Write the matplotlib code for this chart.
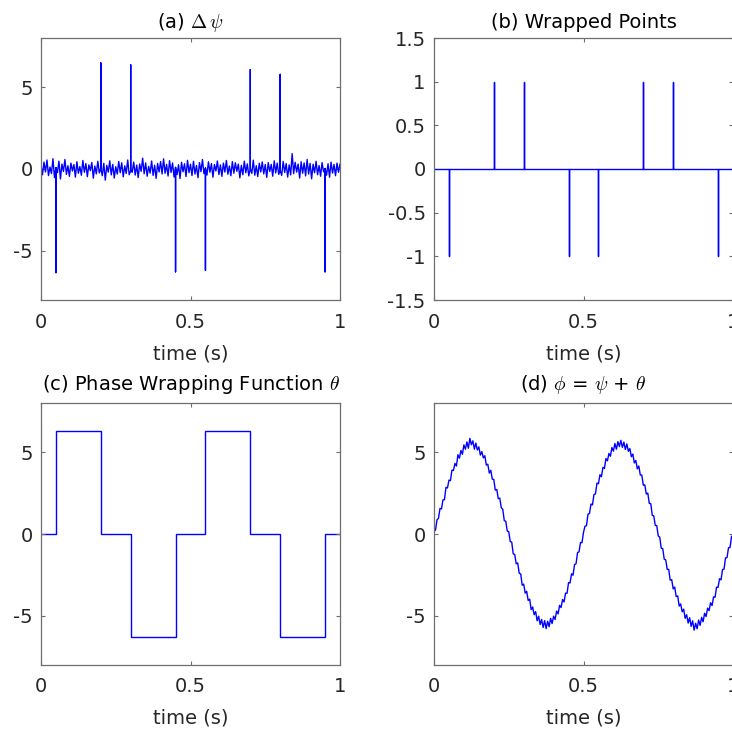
import matplotlib
matplotlib.use("Agg")
import matplotlib.pyplot as plt
import numpy as np

# wrap instants and what happens there
t_wrap = [0.05, 0.2, 0.3, 0.45, 0.55, 0.7, 0.8, 0.95]
wrap_sign = [-1, 1, 1, -1, -1, 1, 1, -1]
spike_height = [-6.33, 6.48, 6.36, -6.28, -6.19, 6.07, 5.78, -6.28]

# phase wrapping function theta (piecewise constant)
theta_edges = [0, 0.05, 0.2, 0.3, 0.45, 0.55, 0.7, 0.8, 0.95, 1.0]
theta_levels = [0, 6.28, 0, -6.28, 0, 6.28, 0, -6.28, 0]

# noise of the wrapped phase difference (sampled every 5 ms)
dpsi_noise = [
    0.21, -0.35, 0.42, -0.18, 0.55, -0.40, 0.12, -0.28, 0.63, -0.52,
    0.08, -0.22, 0.48, -0.61, 0.30, -0.15, 0.58, -0.33, 0.20, -0.45,
    0.36, -0.12, 0.27, -0.50, 0.44, -0.26, 0.15, -0.38, 0.52, -0.20,
    0.33, -0.47, 0.25, -0.10, 0.40, -0.56, 0.18, -0.30, 0.47, -0.24,
    0.05, -0.41, 0.35, -0.68, 0.22, -0.19, 0.50, -0.36, 0.28, -0.55,
    0.14, -0.31, 0.46, -0.23, 0.38, -0.48, 0.19, -0.27, 0.55, -0.35,
    -0.10, -0.20, 0.42, -0.37, 0.24, -0.52, 0.31, -0.14, 0.66, -0.29,
    0.37, -0.44, 0.16, -0.25, 0.49, -0.39, 0.23, -0.57, 0.34, -0.18,
    0.45, -0.30, 0.62, -0.26, 0.28, -0.43, 0.51, -0.21, 0.37, -0.49,
    0.10, -0.34, 0.26, -0.58, 0.41, -0.17, 0.32, -0.46, 0.53, -0.22,
    0.29, -0.40, 0.47, -0.31, 0.21, -0.53, 0.39, -0.16, 0.58, -0.28,
    0.06, -0.37, 0.44, -0.20, 0.33, -0.50, 0.27, -0.12, 0.49, -0.34,
    0.25, -0.45, 0.36, -0.19, 0.52, -0.32, 0.18, -0.41, 0.45, -0.26,
    0.38, -0.14, 0.30, -0.54, 0.22, -0.35, 0.48, -0.23, 0.31, -0.42,
    0.04, -0.27, 0.54, -0.38, 0.20, -0.46, 0.35, -0.18, 0.43, -0.30,
    0.27, -0.51, 0.39, -0.15, 0.28, -0.44, 0.50, -0.24, 0.36, -0.33,
    -0.08, -0.39, 0.46, -0.21, 0.33, -0.49, 0.25, -0.36, 0.94, -0.28,
    0.41, -0.19, 0.30, -0.55, 0.44, -0.26, 0.37, -0.42, 0.58, -0.31,
    0.34, -0.60, 0.29, -0.23, 0.47, -0.35, 0.21, -0.44, 0.39, -0.17,
    0.03, -0.38, 0.32, -0.50, 0.42, -0.25, 0.28, -0.41, 0.36, -0.20,
    0.30,
]

# unwrapped phase phi (sampled every 5 ms)
phi = [
    0.15, 0.24, 0.86, 0.96, 1.56, 1.53, 2.08, 2.10, 2.85, 2.81,
    3.29, 3.26, 3.90, 3.88, 4.31, 4.15, 4.84, 4.63, 5.10, 4.87,
    5.44, 5.18, 5.62, 5.24, 5.84, 5.45, 5.69, 5.18, 5.55, 5.13,
    5.32, 4.82, 5.03, 4.65, 4.78, 4.21, 4.26, 3.72, 3.89, 3.35,
    3.33, 2.68, 2.72, 2.16, 2.19, 1.60, 1.51, 0.82, 0.78, 0.18,
    0.14, -0.46, -0.50, -1.21, -1.25, -1.82, -1.77, -2.40, -2.44, -3.13,
    -3.06, -3.61, -3.50, -4.06, -3.98, -4.62, -4.46, -4.93, -4.74, -5.30,
    -5.02, -5.53, -5.22, -5.71, -5.29, -5.78, -5.33, -5.66, -5.15, -5.47,
    -5.02, -5.22, -4.71, -4.88, -4.36, -4.49, -4.00, -4.15, -3.61, -3.62,
    -2.97, -2.99, -2.43, -2.52, -1.87, -1.82, -1.14, -1.09, -0.52, -0.53,
    0.10, 0.48, 0.51, 1.21, 1.25, 1.83, 1.78, 2.41, 2.45, 3.11,
    3.07, 3.62, 3.50, 4.07, 4.00, 4.61, 4.47, 4.92, 4.75, 5.28,
    5.06, 5.53, 5.18, 5.64, 5.34, 5.72, 5.29, 5.61, 5.16, 5.50,
    5.05, 5.22, 4.72, 4.88, 4.34, 4.49, 3.98, 4.15, 3.60, 3.60,
    2.98, 3.00, 2.44, 2.50, 1.87, 1.85, 1.14, 1.11, 0.53, 0.51,
    -0.12, -0.19, -0.87, -0.89, -1.54, -1.58, -2.16, -2.16, -2.82, -2.79,
    -3.35, -3.24, -3.82, -3.78, -4.40, -4.27, -4.75, -4.59, -5.15, -4.93,
    -5.44, -5.11, -5.64, -5.30, -5.87, -5.45, -5.79, -5.26, -5.58, -5.09,
    -5.36, -4.84, -5.04, -4.53, -4.68, -4.20, -4.37, -3.84, -3.86, -3.25,
    -3.26, -2.73, -2.80, -2.17, -2.14, -1.46, -1.44, -0.84, -0.82, -0.16,
    -0.05,
]

plt.rcParams['font.family'] = ['DejaVu Sans']
plt.rcParams['mathtext.fontset'] = 'cm'
plt.rcParams['axes.unicode_minus'] = False

BLUE = (0, 0, 1)
TXT = '#262626'
AXC = '#6e6e6e'
FS = 14


def spiky(t, base, idx, tops):
    # repeat the sample at each wrap instant so the spike is vertical
    counts = np.ones(len(t), dtype=int)
    counts[idx] = 3
    x = np.repeat(t, counts)
    y = np.repeat(np.asarray(base, dtype=float), counts)
    mid = np.cumsum(counts) - 2
    y[mid[idx]] = tops
    return x, y


def style(ax, yticks, ylabels, ylim):
    ax.set_xlim(0, 1)
    ax.set_ylim(*ylim)
    ax.set_xticks([0, 0.5, 1])
    ax.set_xticklabels(['0', '0.5', '1'])
    ax.set_yticks(yticks)
    ax.set_yticklabels(ylabels)
    ax.tick_params(direction='in', length=3, width=0.8, color=AXC,
                   labelcolor=TXT, labelsize=FS, top=True, right=True)
    ax.tick_params(axis='x', pad=9)
    ax.tick_params(axis='y', pad=6)
    for s in ax.spines.values():
        s.set_color(AXC)
        s.set_linewidth(0.9)
    ax.set_xlabel('time (s)', fontsize=FS, color=TXT, labelpad=9)


def main():
    t = np.linspace(0, 1, len(phi))
    idx = np.rint(np.array(t_wrap) * (len(t) - 1)).astype(int)

    fig = plt.figure(figsize=(7.32, 7.33), dpi=100)
    w = 299 / 732
    h = 262 / 733
    ax_a = fig.add_axes([41 / 732, 1 - 300 / 733, w, h])
    ax_b = fig.add_axes([434 / 732, 1 - 300 / 733, w, h])
    ax_c = fig.add_axes([41 / 732, 1 - 665 / 733, w, h])
    ax_d = fig.add_axes([434 / 732, 1 - 665 / 733, w, h])

    xa, ya = spiky(t, dpsi_noise, idx, spike_height)
    ax_a.plot(xa, ya, color=BLUE, lw=1.0)
    style(ax_a, [-5, 0, 5], ['-5', '0', '5'], (-8, 8))
    ax_a.set_title(r'(a) $\Delta\,\psi$', fontsize=FS, color='black', pad=7)

    xb, yb = spiky(t, np.zeros(len(t)), idx, wrap_sign)
    ax_b.plot(xb, yb, color=BLUE, lw=1.0)
    style(ax_b, [-1.5, -1, -0.5, 0, 0.5, 1, 1.5],
          ['-1.5', '-1', '-0.5', '0', '0.5', '1', '1.5'], (-1.5, 1.5))
    ax_b.set_title('(b) Wrapped Points', fontsize=FS, color='black', pad=7)

    ax_c.stairs(theta_levels, theta_edges, baseline=None, color=BLUE, lw=1.0)
    style(ax_c, [-5, 0, 5], ['-5', '0', '5'], (-8, 8))
    ax_c.set_title(r'(c) Phase Wrapping Function $\theta$', fontsize=FS,
                   color='black', pad=9)

    ax_d.plot(t, phi, color=BLUE, lw=1.0)
    style(ax_d, [-5, 0, 5], ['-5', '0', '5'], (-8, 8))
    ax_d.set_title(r'(d) $\phi$ = $\psi$ + $\theta$', fontsize=FS,
                   color='black', pad=9)

    fig.savefig('out.png', dpi=100)


if __name__ == '__main__':
    main()
